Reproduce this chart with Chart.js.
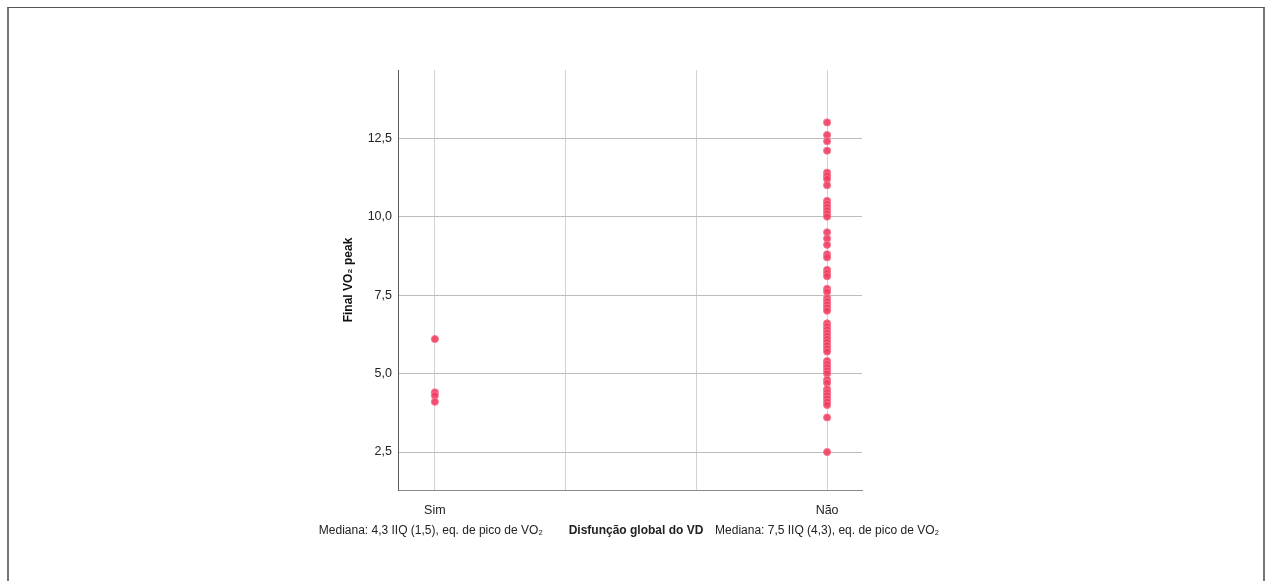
<!DOCTYPE html>
<html>
<head>
<meta charset="utf-8">
<script src="https://cdn.jsdelivr.net/npm/chart.js@4.4.1/dist/chart.umd.min.js"></script>
<style>
  html, body { margin: 0; padding: 0; background: #fff; overflow: hidden; }
  #frame { position: absolute; left: 7px; top: 7px; width: 1254px; height: 620px;
           border-top: 1px solid #555; border-left: 2px solid #777; border-right: 2px solid #777; }
  #wrap { position: absolute; left: 0; top: 0; width: 1269px; height: 581px; }
</style>
</head>
<body>
<div id="frame"></div>
<div id="wrap"><canvas id="c" width="1269" height="581"></canvas></div>
<script>
const FONT = '"Liberation Sans Narrow", "Liberation Sans", Arial, sans-serif';

// categories on the x axis (0 = Sim, 1 = Não)
const categories = ['Sim', 'Não'];
// Final VO2 peak per patient, by group
const simValues = [6.1, 4.4, 4.3, 4.1];
const naoValues = [13.0, 12.6, 12.4, 12.1, 11.4, 11.3, 11.2, 11.0, 10.5, 10.4, 10.3, 10.2,
  10.1, 10.0, 9.5, 9.3, 9.1, 8.8, 8.7, 8.3, 8.2, 8.1, 7.7, 7.6, 7.4, 7.3, 7.2, 7.1, 7.0,
  6.6, 6.5, 6.4, 6.3, 6.2, 6.1, 6.0, 5.9, 5.8, 5.7, 5.4, 5.3, 5.2, 5.1, 5.0, 4.8, 4.7,
  4.5, 4.4, 4.3, 4.2, 4.1, 4.0, 3.6, 2.5];
const yTicks = [2.5, 5.0, 7.5, 10.0, 12.5];
const xGrid = [0, 1 / 3, 2 / 3, 1];
const medianNotes = ['Mediana: 4,3 IIQ (1,5), eq. de pico de VO\u2082', 'Mediana: 7,5 IIQ (4,3), eq. de pico de VO\u2082'];
const xTitle = 'Disfunção global do VD';

const pts = simValues.map(v => ({ x: 0, y: v })).concat(naoValues.map(v => ({ x: 1, y: v })));

// x title and the two median notes share one line under the tick labels
const bottomText = {
  id: 'bottomText',
  afterDraw(chart) {
    const ctx = chart.ctx, xs = chart.scales.x;
    const y = 531;
    ctx.save();
    ctx.fillStyle = '#222';
    ctx.textBaseline = 'middle';
    ctx.textAlign = 'center';
    ctx.font = '12px ' + FONT;
    ctx.fillText(medianNotes[0], xs.getPixelForValue(0) - 4, y);
    ctx.fillText(medianNotes[1], xs.getPixelForValue(1), y);
    ctx.font = 'bold 12px ' + FONT;
    ctx.fillText(xTitle, 636, y);
    ctx.restore();
  }
};

new Chart(document.getElementById('c').getContext('2d'), {
  type: 'scatter',
  data: {
    datasets: [{
      data: pts,
      backgroundColor: 'rgba(240, 60, 95, 0.9)',
      borderColor: 'rgba(250, 120, 145, 0.9)',
      borderWidth: 1,
      pointRadius: 3.6
    }]
  },
  options: {
    responsive: false,
    animation: false,
    layout: { padding: { left: 337, top: 70, right: 407, bottom: 60 } },
    plugins: { legend: { display: false }, tooltip: { enabled: false } },
    scales: {
      x: {
        type: 'linear',
        min: -0.094,
        max: 1.089,
        afterBuildTicks: s => { s.ticks = xGrid.map(v => ({ value: v })); },
        afterFit: s => { s.height = 31; },
        grid: { color: '#d2d2d2', drawTicks: false },
        border: { color: '#8a8a8a', width: 1 },
        ticks: {
          padding: 13,
          color: '#222',
          font: { family: FONT, size: 12.5 },
          callback: v => Math.abs(v) < 1e-6 ? categories[0] : (Math.abs(v - 1) < 1e-6 ? categories[1] : '')
        }
      },
      y: {
        min: 1.29,
        max: 14.67,
        afterBuildTicks: s => { s.ticks = yTicks.map(v => ({ value: v })); },
        afterFit: s => { s.width = 61; },
        grid: { color: '#bdbdbd', drawTicks: false },
        border: { color: '#5a5a5a', width: 1 },
        ticks: {
          padding: 6,
          color: '#222',
          font: { family: FONT, size: 12.5 },
          callback: v => v.toFixed(1).replace('.', ',')
        },
        title: {
          display: true,
          text: 'Final VO\u2082 peak',
          color: '#111',
          font: { family: FONT, size: 12, weight: 'bold' }
        }
      }
    }
  },
  plugins: [bottomText]
});
</script>
</body>
</html>
